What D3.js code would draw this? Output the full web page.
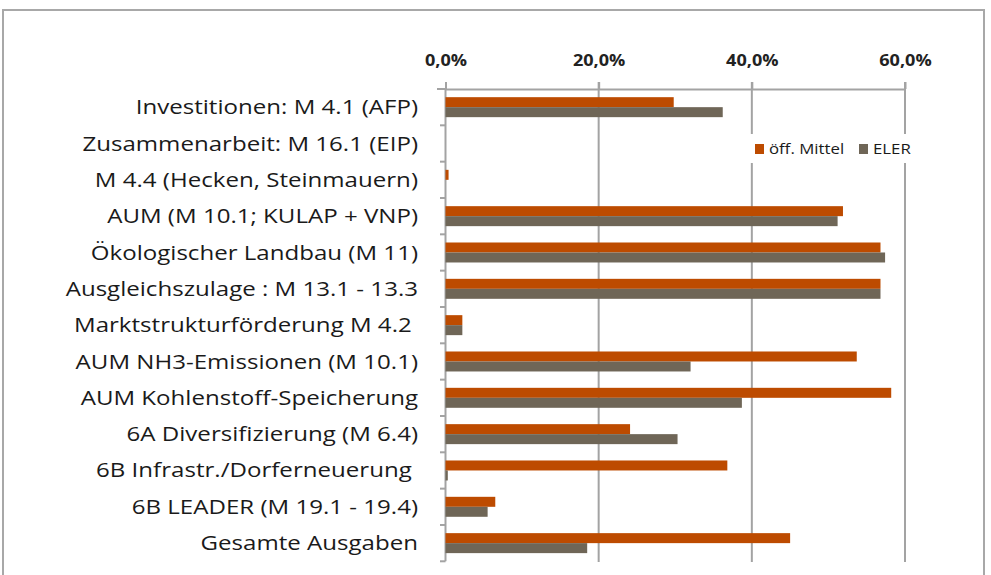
<!DOCTYPE html>
<html>
<head>
<meta charset="utf-8">
<script src="https://cdn.jsdelivr.net/npm/d3@7"></script>
<style>
  html, body { margin: 0; padding: 0; background: #fff; }
  svg { display: block; }
</style>
</head>
<body>
<svg id="chart" width="991" height="575"></svg>
<script>
const categories = [
  "Investitionen: M 4.1 (AFP)",
  "Zusammenarbeit: M 16.1 (EIP)",
  "M 4.4 (Hecken, Steinmauern)",
  "AUM (M 10.1; KULAP + VNP)",
  "Ökologischer Landbau (M 11)",
  "Ausgleichszulage : M 13.1 - 13.3",
  "Marktstrukturförderung M 4.2 ",
  "AUM NH3-Emissionen (M 10.1)",
  "AUM Kohlenstoff-Speicherung",
  "6A Diversifizierung (M 6.4)",
  "6B Infrastr./Dorferneuerung ",
  "6B LEADER (M 19.1 - 19.4)",
  "Gesamte Ausgaben"
];
const seriesNames = ["öff. Mittel", "ELER"];
const offMittel = [0.298, 0.0, 0.004, 0.519, 0.568, 0.568, 0.022, 0.537, 0.582, 0.241, 0.368, 0.065, 0.450];
const eler      = [0.362, 0.0, 0.0,   0.512, 0.574, 0.568, 0.022, 0.320, 0.387, 0.303, 0.003, 0.055, 0.185];
const xTicks = [0, 0.2, 0.4, 0.6];

const colors = { "öff. Mittel": "#bd4b00", "ELER": "#6f6657" };
const FONT = "'Open Sans', 'Noto Sans', sans-serif";

const svg = d3.select("#chart");

// outer frame
svg.append("rect")
  .attr("x", 3).attr("y", 10).attr("width", 981).attr("height", 600)
  .attr("fill", "none").attr("stroke", "#a8a8a8").attr("stroke-width", 2);

const x = d3.scaleLinear().domain([0, 0.6]).range([445.5, 905]);
const y = d3.scaleBand().domain(categories).range([89, 561.3])
  .paddingInner(0.45).paddingOuter(0.225);
const ys = d3.scaleBand().domain(seriesNames).range([0, y.bandwidth()]);

const gridTop = 82, gridBottom = 562;

// gridlines
svg.append("g").selectAll("line").data(xTicks.slice(1)).join("line")
  .attr("x1", d => x(d)).attr("x2", d => x(d))
  .attr("y1", gridTop).attr("y2", gridBottom)
  .attr("stroke", "#a3a3a3").attr("stroke-width", 2);

// top axis
const fmt = d => (d * 100).toFixed(1).replace(".", ",") + "%";
const xAxis = svg.append("g").attr("transform", "translate(0,89)")
  .call(d3.axisTop(x).tickValues(xTicks).tickFormat(fmt).tickSizeInner(7).tickSizeOuter(0).tickPadding(0));
xAxis.select(".domain").attr("stroke", "#a3a3a3").attr("stroke-width", 2);
xAxis.selectAll(".tick line").attr("stroke", "#a3a3a3").attr("stroke-width", 2);
xAxis.selectAll(".tick text")
  .attr("y", 0)
  .attr("transform", "translate(0,-23) scale(1.13,1)")
  .attr("fill", "#222").attr("font-family", FONT)
  .attr("font-size", 16).attr("font-weight", "bold");

// vertical axis with category boundary ticks
const y0 = y.range()[0];
const boundaries = d3.range(categories.length + 1).map(i => y0 + i * y.step());
svg.append("line")
  .attr("x1", x(0)).attr("x2", x(0)).attr("y1", 89).attr("y2", boundaries[boundaries.length - 1])
  .attr("stroke", "#a3a3a3").attr("stroke-width", 2);
svg.append("line")
  .attr("x1", 437).attr("x2", x(0)).attr("y1", 89).attr("y2", 89)
  .attr("stroke", "#a3a3a3").attr("stroke-width", 2);
svg.append("g").selectAll("line").data(boundaries).join("line")
  .attr("x1", 440).attr("x2", x(0))
  .attr("y1", d => d).attr("y2", d => d)
  .attr("stroke", "#a3a3a3").attr("stroke-width", 2);

// bars
const rows = categories.map((c, i) => ({ c, values: [offMittel[i], eler[i]] }));
const groups = svg.append("g").selectAll("g").data(rows).join("g")
  .attr("transform", d => `translate(0,${y(d.c)})`);
groups.selectAll("rect").data(d => d.values.map((v, j) => ({ s: seriesNames[j], v })))
  .join("rect")
  .attr("x", x(0))
  .attr("y", d => ys(d.s))
  .attr("width", d => x(d.v) - x(0))
  .attr("height", ys.bandwidth())
  .attr("fill", d => colors[d.s]);

// category labels (horizontally widened like the source rendering)
svg.append("g").selectAll("text").data(categories).join("text")
  .attr("transform", d => `translate(418,${y(d) + y.bandwidth() / 2}) scale(1.235,1)`)
  .attr("dy", "0.36em")
  .attr("text-anchor", "end")
  .attr("xml:space", "preserve")
  .style("white-space", "pre")
  .attr("font-family", FONT)
  .attr("font-size", 19.5)
  .attr("fill", "#1a1a1a")
  .text(d => d);

// legend
const legend = svg.append("g");
legend.append("rect").attr("x", 746).attr("y", 134).attr("width", 170).attr("height", 29).attr("fill", "#fff");
const legendItems = [{ s: "öff. Mittel", x: 755 }, { s: "ELER", x: 859 }];
legendItems.forEach(it => {
  legend.append("rect").attr("x", it.x).attr("y", 144).attr("width", 9).attr("height", 10).attr("fill", colors[it.s]);
  legend.append("text")
    .attr("transform", `translate(${it.x + 14},149) scale(1.2,1)`)
    .attr("dy", "0.36em")
    .attr("font-family", FONT).attr("font-size", 14)
    .attr("fill", "#1a1a1a").text(it.s);
});
</script>
</body>
</html>
